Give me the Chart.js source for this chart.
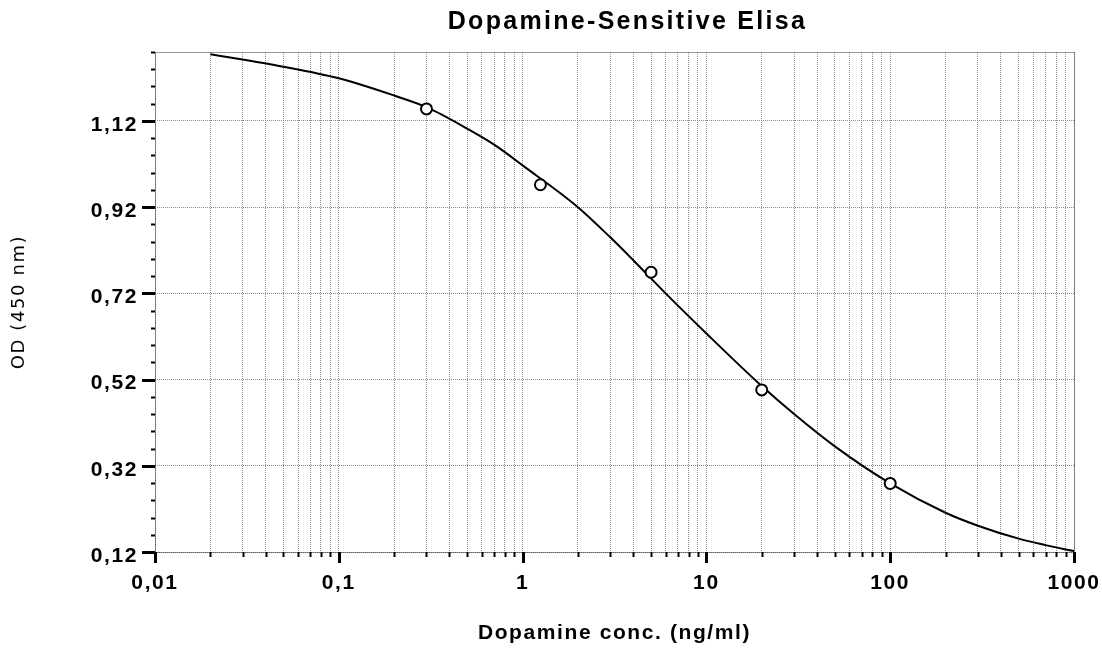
<!DOCTYPE html>
<html>
<head>
<meta charset="utf-8">
<title>Dopamine-Sensitive Elisa</title>
<script src="https://cdn.jsdelivr.net/npm/chart.js@4.4.0/dist/chart.umd.min.js"></script>
<style>
  html, body { margin: 0; padding: 0; background: #fff; }
</style>
</head>
<body>
<canvas id="chart" width="1102" height="648"></canvas>
<script>
// standards (measured points)
const stdConc = [0.3, 1.25, 5, 20, 100];
const stdOD = [1.148, 0.972, 0.769, 0.496, 0.279];

// fitted curve
const fitConc = [0.02, 0.05, 0.1, 0.2, 0.3, 0.5, 0.7, 1, 2, 3, 4, 6, 10, 20, 30, 50, 100, 200, 300, 500, 700, 1000];
const fitOD = [1.275, 1.246, 1.219, 1.179, 1.152, 1.102, 1.065, 1.017, 0.92, 0.85, 0.797, 0.72, 0.627, 0.505, 0.44, 0.365, 0.279, 0.211, 0.181, 0.151, 0.136, 0.122];

// axis ticks
const xMajorTicks = [0.01, 0.1, 1, 10, 100, 1000];
const yMajorTicks = [0.12, 0.32, 0.52, 0.72, 0.92, 1.12];
const yMin = 0.12;
const yMax = 1.28;
const yMinorStep = 0.04;

const chartTitle = 'Dopamine-Sensitive Elisa';

const xTicks = [];
xMajorTicks.slice(0, -1).forEach(d => {
  for (let m = 1; m <= 9; m++) xTicks.push(Number((m * d).toPrecision(3)));
});
xTicks.push(xMajorTicks[xMajorTicks.length - 1]);

const yTicks = [];
for (let i = 0; i <= Math.round((yMax - yMin) / yMinorStep); i++) {
  yTicks.push(Math.round((yMin + i * yMinorStep) * 100) / 100);
}

const isXMajor = v => xMajorTicks.includes(v);
const isYMajor = v => yMajorTicks.includes(v);
const fmt = v => String(v).replace('.', ',');

const arial = "Arial, 'Liberation Sans', sans-serif";
const labelFont = { family: arial, size: 21, weight: 'bold' };
const gridGrey = '#8c8c8c';

// letter spacing, title, frame and tick marks
const decor = {
  id: 'decor',
  beforeDraw(chart) {
    chart.ctx.letterSpacing = '1.6px';
  },
  beforeDatasetsDraw(chart) {
    const { ctx, chartArea: a } = chart;
    ctx.save();
    ctx.strokeStyle = '#333';
    ctx.lineWidth = 1;
    ctx.setLineDash([1, 1]);
    ctx.strokeRect(a.left + 0.5, a.top + 0.5, a.right - a.left, a.bottom - a.top);
    ctx.restore();
  },
  afterDraw(chart) {
    const { ctx, chartArea: a, scales: { x, y } } = chart;
    ctx.save();
    ctx.strokeStyle = '#000';
    x.ticks.forEach(t => {
      const major = isXMajor(t.value);
      const px = Math.round(x.getPixelForValue(t.value)) + 0.5;
      ctx.lineWidth = major ? 3 : 2;
      ctx.beginPath();
      ctx.moveTo(px, a.bottom);
      ctx.lineTo(px, a.bottom + (major ? 11 : 5));
      ctx.stroke();
    });
    y.ticks.forEach(t => {
      const major = isYMajor(t.value);
      const py = Math.round(y.getPixelForValue(t.value)) + 0.5;
      ctx.lineWidth = major ? 3 : 2;
      ctx.beginPath();
      ctx.moveTo(a.left, py);
      ctx.lineTo(a.left - (major ? 13 : 4), py);
      ctx.stroke();
    });
    // title, sits a little right of the plot centre in the original
    ctx.letterSpacing = '2.3px';
    ctx.fillStyle = '#000';
    ctx.font = 'bold 25px ' + arial;
    ctx.textAlign = 'center';
    ctx.textBaseline = 'middle';
    ctx.fillText(chartTitle, (a.left + a.right) / 2 + 13, 22);
    ctx.restore();
  }
};

new Chart(document.getElementById('chart'), {
  type: 'scatter',
  data: {
    datasets: [
      {
        label: 'Standards',
        data: stdConc.map((c, i) => ({ x: c, y: stdOD[i] })),
        pointStyle: 'circle',
        pointRadius: 5.5,
        borderWidth: 2,
        borderColor: '#000',
        backgroundColor: '#fff'
      },
      {
        label: 'Fit',
        data: fitConc.map((c, i) => ({ x: c, y: fitOD[i] })),
        showLine: true,
        pointRadius: 0,
        borderColor: '#000',
        borderWidth: 2,
        cubicInterpolationMode: 'monotone',
        fill: false
      }
    ]
  },
  options: {
    responsive: false,
    animation: false,
    layout: { padding: { left: 0, right: 28, top: 52, bottom: 0 } },
    plugins: {
      legend: { display: false },
      tooltip: { enabled: false },
      title: { display: false }
    },
    scales: {
      x: {
        type: 'logarithmic',
        min: 0.01,
        max: 1000,
        afterBuildTicks: s => { s.ticks = xTicks.map(v => ({ value: v })); },
        afterFit: s => { s.height = 96; s.paddingLeft = 0; s.paddingRight = 0; },
        ticks: {
          autoSkip: false,
          maxRotation: 0,
          padding: 19,
          color: '#000',
          font: labelFont,
          callback: v => isXMajor(v) ? fmt(v) : ''
        },
        grid: { color: gridGrey, lineWidth: 1, drawTicks: false },
        border: { display: false, dash: [1, 1] },
        title: {
          display: true,
          text: 'Dopamine conc. (ng/ml)',
          color: '#000',
          font: labelFont,
          padding: { top: 0, bottom: 2 }
        }
      },
      y: {
        min: yMin,
        max: yMax,
        afterBuildTicks: s => { s.ticks = yTicks.map(v => ({ value: v })); },
        afterFit: s => { s.width = 155; s.paddingTop = 0; s.paddingBottom = 0; },
        ticks: {
          autoSkip: false,
          padding: 17,
          labelOffset: 4,
          color: '#000',
          font: labelFont,
          callback: v => isYMajor(v) ? fmt(v) : ''
        },
        grid: {
          color: c => (c.tick && isYMajor(c.tick.value)) ? gridGrey : 'rgba(0,0,0,0)',
          lineWidth: 1,
          drawTicks: false
        },
        border: { display: false, dash: [1, 1] },
        title: {
          display: true,
          text: 'OD (450 nm)',
          color: '#000',
          font: { family: "'DejaVu Sans', sans-serif", size: 18, weight: 'normal' },
          padding: { top: 9, bottom: 0 }
        }
      }
    }
  },
  plugins: [decor]
});
</script>
</body>
</html>
